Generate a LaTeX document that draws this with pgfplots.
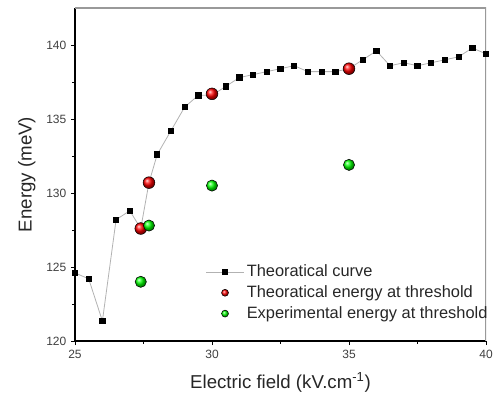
\documentclass[border=0pt]{standalone}
\usepackage{fontspec}
\setmainfont{Liberation Sans}
\usepackage{pgfplots}
\pgfplotsset{compat=1.18}

\begin{document}
\begin{tikzpicture}
\begin{axis}[
  scale only axis,
  width=308.25pt, height=249.75pt,
  xmin=25, xmax=40,
  ymin=120, ymax=142.5,
  xtick={25,30,35,40},
  ytick={120,125,130,135,140},
  minor tick num=1,
  axis x line*=bottom,
  axis y line*=left,
  axis line style={black, line width=0.9pt, -},
  tick align=outside,
  major tick length=3pt,
  minor tick length=2.2pt,
  tick style={black, line width=0.7pt},
  /pgf/number format/assume math mode=true,
  ticklabel style={font=\fontsize{9}{10}\selectfont, text=black!75},
  xlabel={Electric field (kV.cm\textsuperscript{-1})},
  ylabel={Energy (meV)},
  label style={font=\fontsize{14}{16}\selectfont, text=black!85},
  x label style={at={(axis description cs:0.5,-0.123)}, anchor=center},
  y label style={at={(axis description cs:-0.117,0.5)}, anchor=center},
  legend style={draw=none, fill=none, at={(axis description cs:0.318,0.237)},
    anchor=north west, font=\fontsize{12.3}{14}\selectfont, text=black!85,
    row sep=1.2pt, inner sep=0pt},
  legend cell align=left,
]
% Theoratical curve
\addplot[gray!60, line width=0.6pt, mark=square*, mark size=2pt,
  mark options={black, fill=black, solid},
  legend image code/.code={
    \draw[gray!60, line width=0.6pt] (0pt,0pt) -- (28pt,0pt);
    \fill[black] (12pt,-2pt) rectangle (16pt,2pt);}] coordinates {
  (25.0,124.6) (25.5,124.2) (26.0,121.35) (26.5,128.2) (27.0,128.8)
  (27.4,127.6) (27.7,130.7) (28.0,132.6) (28.5,134.2) (29.0,135.8)
  (29.5,136.6) (30.0,136.6) (30.5,137.2) (31.0,137.8) (31.5,138.0)
  (32.0,138.2) (32.5,138.4) (33.0,138.6) (33.5,138.2) (34.0,138.2)
  (34.5,138.2) (35.0,138.4) (35.5,139.0) (36.0,139.6) (36.5,138.6)
  (37.0,138.8) (37.5,138.6) (38.0,138.8) (38.5,139.0) (39.0,139.2)
  (39.5,139.8) (40.0,139.4)
};
\addlegendentry{Theoratical curve}

% Theoratical energy at threshold
\addplot[only marks, mark=ball, mark size=4.4pt, ball color=red,
  legend image code/.code={\shade[ball color=red] (14pt,0pt) circle (2.6pt);}]
  coordinates {(27.4,127.6) (27.7,130.7) (30.0,136.7) (35.0,138.4)};
\addlegendentry{Theoratical energy at threshold}

% Experimental energy at threshold
\addplot[only marks, mark=ball, mark size=4.2pt, ball color=green,
  legend image code/.code={\shade[ball color=green] (14pt,0pt) circle (2.6pt);}]
  coordinates {(27.4,124.0) (27.7,127.8) (30.0,130.5) (35.0,131.9)};
\addlegendentry{Experimental energy at threshold}

\draw[gray!80, line width=1.4pt] (rel axis cs:0,1) -- (rel axis cs:1,1) -- (rel axis cs:1,0);
\end{axis}
\pgfresetboundingbox
\path[use as bounding box] (-56.25pt,-46.5pt) rectangle (315pt,255.75pt);
\end{tikzpicture}
\end{document}
